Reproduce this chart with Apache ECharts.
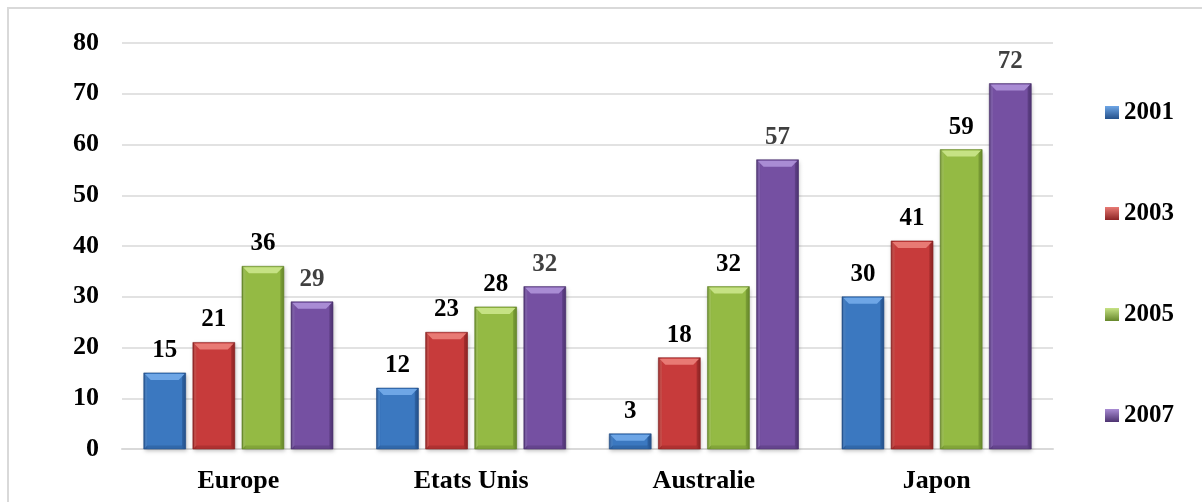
<!DOCTYPE html>
<html>
<head>
<meta charset="utf-8">
<script src="https://cdn.jsdelivr.net/npm/echarts@6/dist/echarts.min.js"></script>
<style>
  html, body { margin: 0; padding: 0; background: #fff; }
  #chart { width: 1202px; height: 502px; }
</style>
</head>
<body>
<div id="chart"></div>
<script>
// Regions and survey years
const categories = ['Europe', 'Etats Unis', 'Australie', 'Japon'];
const years = ['2001', '2003', '2005', '2007'];

// Values per year, one entry per region
const v2001 = [15, 12, 3, 30];
const v2003 = [21, 23, 18, 41];
const v2005 = [36, 28, 32, 59];
const v2007 = [29, 32, 57, 72];

// Value axis
const yMin = 0;
const yMax = 80;
const yStep = 10;

const FONT = '"Liberation Serif", "Times New Roman", serif';

// Bevelled bar palette: face, light bevel, dark bevel, label colour
const palette = [
  { base: '#3b78c0', light: '#6ea6e6', dark: '#24508a', label: '#000000' },
  { base: '#c73b3b', light: '#e87a74', dark: '#8c2424', label: '#000000' },
  { base: '#94ba44', light: '#c6e284', dark: '#66872b', label: '#000000' },
  { base: '#7550a2', light: '#a98cd4', dark: '#4d3370', label: '#404040' }
];

const seriesValues = [v2001, v2003, v2005, v2007];

function makeRenderItem(k) {
  const c = palette[k];
  return function (params, api) {
    const ci = api.value(0);
    const val = api.value(1);
    const topPt = api.coord([ci, val]);
    const basePt = api.coord([ci, 0]);
    const band = api.size([1, 0])[0];
    const bw = band * 0.18;
    const step = band * 0.211;
    const cx = topPt[0] + (k - 1.5) * step;
    const x0 = cx - bw / 2, x1 = cx + bw / 2;
    const y0 = topPt[1], yb = basePt[1];
    const h = yb - y0;
    const b = Math.min(7, h / 2, bw / 2);
    return {
      type: 'group',
      children: [
        {
          type: 'rect',
          shape: { x: x0, y: y0, width: bw, height: h },
          style: {
            fill: new echarts.graphic.LinearGradient(0, 0, 1, 0, [
              { offset: 0, color: c.dark },
              { offset: 0.1, color: c.base },
              { offset: 0.5, color: c.base },
              { offset: 0.9, color: c.base },
              { offset: 1, color: c.dark }
            ]),
            shadowBlur: 4,
            shadowOffsetX: 1,
            shadowOffsetY: 2,
            shadowColor: 'rgba(0,0,0,0.25)'
          }
        },
        {
          // light top bevel
          type: 'polygon',
          shape: { points: [[x0 + 1, y0 + 1], [x1 - 1, y0 + 1], [x1 - b, y0 + b], [x0 + b, y0 + b]] },
          style: { fill: c.light }
        },
        {
          // subtle lighter left bevel
          type: 'polygon',
          shape: { points: [[x0 + 1, y0 + 1], [x0 + b * 0.5, y0 + b * 0.5], [x0 + b * 0.5, yb - b * 0.5], [x0 + 1, yb]] },
          style: { fill: c.light, opacity: 0.35 }
        },
        {
          // darker right bevel
          type: 'polygon',
          shape: { points: [[x1, y0], [x1 - b * 0.5, y0 + b * 0.5], [x1 - b * 0.5, yb - b * 0.5], [x1, yb]] },
          style: { fill: c.dark, opacity: 0.45 }
        },
        {
          // darker bottom bevel
          type: 'polygon',
          shape: { points: [[x0, yb], [x1, yb], [x1 - b * 0.5, yb - b * 0.5], [x0 + b * 0.5, yb - b * 0.5]] },
          style: { fill: c.dark, opacity: 0.4 }
        },
        {
          type: 'rect',
          shape: { x: x0, y: y0, width: bw, height: h },
          style: { fill: 'none', stroke: c.dark, lineWidth: 1, opacity: 0.6 }
        },
        {
          type: 'text',
          style: {
            text: String(val),
            x: cx,
            y: y0 - 10,
            align: 'center',
            verticalAlign: 'bottom',
            fontSize: 25,
            fontWeight: 'bold',
            fontFamily: FONT,
            fill: c.label
          }
        }
      ]
    };
  };
}

const series = years.map(function (yr, k) {
  return {
    name: yr,
    type: 'custom',
    renderItem: makeRenderItem(k),
    encode: { x: 0, y: 1 },
    itemStyle: { color: palette[k].base },
    data: seriesValues[k].map(function (v, i) { return [i, v]; })
  };
});

const chart = echarts.init(document.getElementById('chart'), null, { renderer: 'canvas' });
chart.setOption({
  animation: false,
  backgroundColor: '#ffffff',
  graphic: [{
    type: 'rect',
    silent: true,
    z: -10,
    shape: { x: 8, y: 8, width: 1210, height: 510 },
    style: { fill: 'none', stroke: '#d9d9d9', lineWidth: 2 }
  }],
  grid: { left: 122, right: 149, top: 43, bottom: 53, containLabel: false },
  legend: {
    orient: 'vertical',
    left: 1100,
    top: 95,
    itemWidth: 14,
    itemHeight: 13,
    itemGap: 76,
    icon: 'rect',
    data: years.map(function (yr, k) {
      return {
        name: yr,
        itemStyle: {
          color: new echarts.graphic.LinearGradient(0, 0, 0, 1, [
            { offset: 0, color: palette[k].light },
            { offset: 1, color: palette[k].dark }
          ])
        }
      };
    }),
    textStyle: {
      fontFamily: FONT, fontWeight: 'bold', fontSize: 25, color: '#000',
      lineHeight: 25, padding: [0, 0, 0, 0]
    }
  },
  xAxis: {
    type: 'category',
    data: categories,
    axisLine: { lineStyle: { color: '#d9d9d9', width: 2 } },
    axisTick: { show: false },
    axisLabel: {
      margin: 19, fontFamily: FONT, fontWeight: 'bold', fontSize: 26, color: '#000'
    }
  },
  yAxis: {
    type: 'value',
    min: yMin,
    max: yMax,
    interval: yStep,
    axisLine: { show: false },
    axisTick: { show: false },
    splitLine: { lineStyle: { color: '#d9d9d9', width: 1.5 } },
    axisLabel: {
      margin: 23, fontFamily: FONT, fontWeight: 'bold', fontSize: 26, color: '#000'
    }
  },
  series: series
});
</script>
</body>
</html>
